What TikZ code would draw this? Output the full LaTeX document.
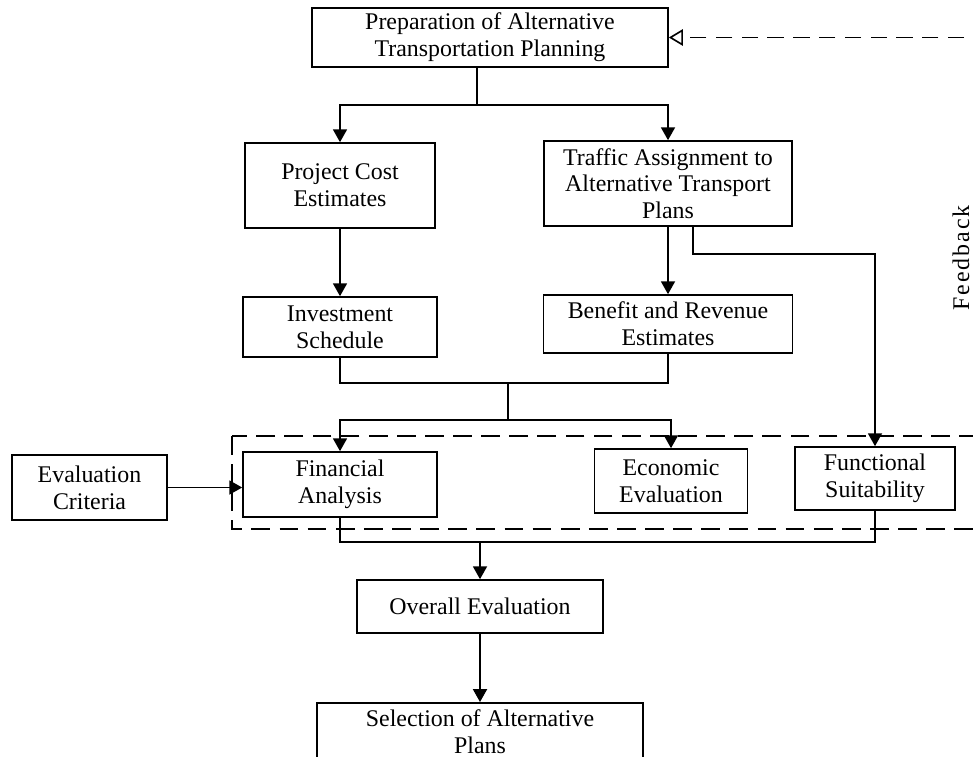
\documentclass[tikz,border=0pt]{standalone}
\usepackage{fontspec}
\setmainfont{Liberation Serif}
\usetikzlibrary{arrows.meta}

\begin{document}
\begin{tikzpicture}[x=0.015cm, y=-0.015cm, line width=0.7pt, align=center,
	font=\fontsize{10.2}{11.4}\selectfont,
	box/.style={draw, inner sep=0pt},
	arr/.style={-{Triangle[width=6pt,length=5.5pt]}},
	fbarr/.style={dashed, dash pattern=on 7pt off 4pt, -{Triangle[open,width=7pt,length=6pt]}}]
	\clip (0,0) rectangle (973,757);

	% 1. Planning step at the top, with the feedback loop coming back in
	\node[box, minimum width=5.34cm, minimum height=0.885cm] (prep) at (490,37.5)
		{Preparation of Alternative\\Transportation Planning};
	\coordinate (fbend) at (990,37.5);
	\draw[fbarr] (fbend) -- (prep.east);
	\node[rotate=90] (fblabel) at (961,258) {\addfontfeature{LetterSpace=8}Feedback};

	% 2. Cost and traffic branches
	\node[box, minimum width=2.85cm, minimum height=1.275cm] (project) at (340,185.5)
		{Project Cost\\Estimates};
	\node[box, minimum width=3.72cm, minimum height=1.275cm] (traffic) at (668,183.5)
		{Traffic Assignment to\\Alternative Transport\\Plans};
	\draw ([xshift=-0.195cm]prep.south) -- ++(0,37) coordinate (split);
	\draw[arr] (split) -| (project.north);
	\draw[arr] (split) -| (traffic.north);

	% 3. Schedule and benefits
	\node[box, minimum width=2.91cm, minimum height=0.9cm] (invest) at (340,327)
		{Investment\\Schedule};
	\node[box, minimum width=3.735cm, minimum height=0.87cm] (benefit) at (668,324)
		{Benefit and Revenue\\Estimates};
	\draw[arr] (project) -- (invest);
	\draw[arr] (traffic) -- (benefit);

	% 4. Evaluation group (dashed frame)
	\draw[dashed, dash pattern=on 8pt off 4pt] (232,436) rectangle (990,529);
	\node[box, minimum width=2.325cm, minimum height=0.975cm] (eval) at (89.5,487.5)
		{Evaluation\\Criteria};
	\node[box, minimum width=2.91cm, minimum height=0.975cm] (financial) at (340,484.5)
		{Financial\\Analysis};
	\node[box, minimum width=2.295cm, minimum height=0.96cm] (economic) at (671,481)
		{Economic\\Evaluation};
	\node[box, minimum width=2.4cm, minimum height=0.945cm] (functional) at (875,478.5)
		{Functional\\Suitability};

	\coordinate (merge) at (508,383);
	\draw (invest.south) |- (merge) -| (benefit.south);
	\draw (merge) -- ++(0,37) coordinate (split2);
	\draw[arr] (split2) -| (financial.north);
	\draw[arr] (split2) -| (economic.north);
	\draw[arr] ([xshift=0.375cm]traffic.south) -- ++(0,27) -| (functional.north);
	\draw[arr] (eval.east) -- (eval.east -| financial.west);

	% 5. Overall evaluation and selection
	\node[box, minimum width=3.69cm, minimum height=0.795cm] (overall) at (480,606.5)
		{Overall Evaluation};
	\node[box, anchor=north, minimum width=4.89cm, inner ysep=3pt] (select) at (480,702)
		{Selection of Alternative\\Plans};
	\coordinate (join) at (480,542);
	\draw (financial.south) |- (join) -| (functional.south);
	\draw[arr] (join) -- (overall.north);
	\draw[arr] (overall) -- (select);
\end{tikzpicture}
\end{document}
